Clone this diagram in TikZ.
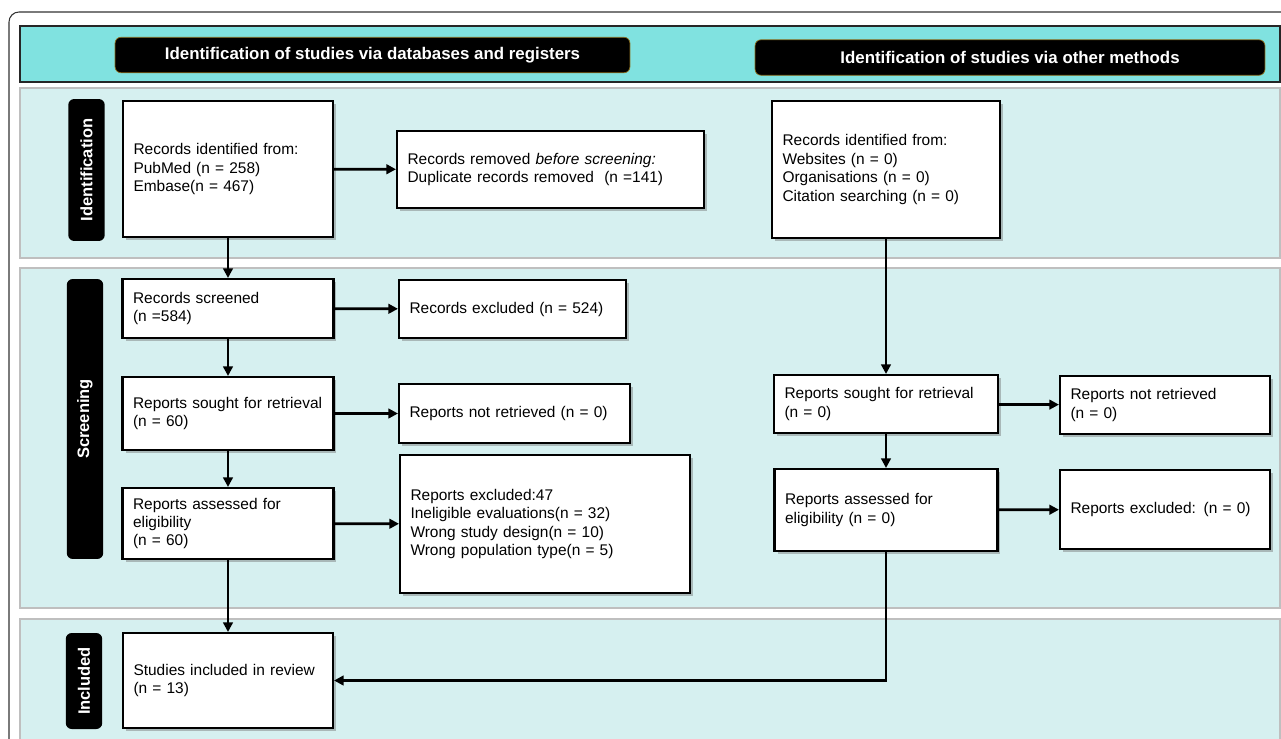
\documentclass[tikz,border=0pt]{standalone}
\usepackage{fontspec}
\setmainfont{Liberation Sans}
\usetikzlibrary{positioning, arrows.meta, shadows, calc}

\definecolor{bandcyan}{RGB}{128,226,224}
\definecolor{panelcyan}{RGB}{214,240,240}
\definecolor{pillgold}{RGB}{140,110,30}

\tikzset{
	box/.style={rectangle, draw, fill=white, line width=1.2pt, align=left, inner xsep=0.21cm, 
	font=\fontsize{8.8}{10.5}\selectfont, drop shadow={shadow xshift=0.06cm, shadow yshift=-0.06cm, 
	fill=black!60, opacity=0.4}},
	pill/.style={rectangle, draw=pillgold, fill=black, rounded corners=0.12cm, text=white, 
	font=\fontsize{9.6}{11}\selectfont\bfseries, minimum height=0.71cm},
	stage/.style={rectangle, fill=black, rounded corners=0.12cm, text=white, rotate=90, 
	font=\fontsize{9.4}{11}\selectfont\bfseries, minimum height=0.73cm},
	panel/.style={draw=black!25, fill=panelcyan, line width=0.8pt},
	link/.style={draw, line width=1.6pt, -{Triangle[length=1.9mm, width=1.9mm]}}
}

\begin{document}
\begin{tikzpicture}[x=0.02cm, y=-0.02cm]
		
		\useasboundingbox (0,0) rectangle (1281,738);
		\clip (0,0) rectangle (1281,738);
		
		%Frame and panels
		\draw [black!80, line width=0.6pt, rounded corners=0.2cm] (9,12) rectangle (1300,760);
		\draw [fill=bandcyan, draw=black!85, line width=0.8pt] (20,26) rectangle (1280,82);
		\path [panel] (20,88) rectangle (1280,258);
		\path [panel] (20,268) rectangle (1280,608);
		\path [panel] (20,619) rectangle (1280,760);
		
		%Headers
		\node [pill, minimum width=10.3cm] (headDb) at (372.5,55) 
		{Identification of studies via databases and registers};
		\node [pill, minimum width=10.2cm] (headOther) at (1010,57.5) 
		{Identification of studies via other methods};
		
		%Stage labels
		\node [stage, minimum width=2.84cm] (stIdent) at (86.5,170) {Identification};
		\node [stage, minimum width=5.6cm] (stScreen) at (85,419) {Screening};
		\node [stage, minimum width=1.92cm] (stIncl) at (84,681) {Included};
		
		%Database nodes
		\node [box, text width=3.78cm, minimum height=2.72cm] (identDb) at (228,169) 
		{Records identified from:\\PubMed (n = 258)\\Embase(n = 467)};
		
		\node [box, text width=5.72cm, minimum height=1.54cm] (removed) at (550.5,169.5) 
		{Records removed \textit{before screening:}\\Duplicate records removed\ \ (n =141)};
		
		\node [box, text width=3.80cm, minimum height=1.18cm] (screened) at (228,308.5) 
		{Records screened\\(n =584)};
		
		\node [box, text width=4.12cm, minimum height=1.16cm] (excluded) at (512.5,309) 
		{Records excluded (n = 524)};
		
		\node [box, text width=3.80cm, minimum height=1.46cm] (sought) at (228,413.5) 
		{Reports sought for retrieval\\(n = 60)};
		
		\node [box, text width=4.20cm, minimum height=1.18cm] (notRetrieved) at (514.5,413.5) 
		{Reports not retrieved (n = 0)};
		
		\node [box, text width=3.80cm, minimum height=1.42cm] (assessed) at (228,523.5) 
		{Reports assessed for\\eligibility\\(n = 60)};
		
		\node [box, text width=5.38cm, minimum height=2.76cm] (reportsExcl) at (545,524) 
		{Reports excluded:47\\Ineligible evaluations(n = 32)\\Wrong study design(n = 10)\\
		Wrong population type(n = 5)};
		
		\node [box, text width=3.78cm, minimum height=1.90cm] (included) at (228,680.5) 
		{Studies included in review\\(n = 13)};
		
		%Other methods nodes
		\node [box, text width=4.14cm, minimum height=2.74cm] (identOther) at (886,169.5) 
		{Records identified from:\\Websites (n = 0)\\Organisations (n = 0)\\Citation searching (n = 0)};
		
		\node [box, text width=4.06cm, minimum height=1.16cm] (soughtOther) at (886,404) 
		{Reports sought for retrieval\\(n = 0)};
		
		\node [box, text width=3.78cm, minimum height=1.16cm] (notRetrievedOther) at (1165,405) 
		{Reports not retrieved\\(n = 0)};
		
		\node [box, text width=4.04cm, minimum height=1.64cm] (assessedOther) at (886,510) 
		{Reports assessed for\\eligibility (n = 0)};
		
		\node [box, text width=3.78cm, minimum height=1.58cm] (reportsExclOther) at (1165,509.5) 
		{Reports excluded: (n = 0)};
		
		%Links
		\path [link] (identDb) -- (removed);
		\path [link] (identDb) -- (screened);
		\path [link] (screened) -- (excluded);
		\path [link] (screened) -- (sought);
		\path [link] (sought) -- (notRetrieved);
		\path [link] (sought) -- (assessed);
		\path [link] (assessed) -- (reportsExcl);
		\path [link] (assessed) -- (included);
		\path [link] (identOther) -- (soughtOther);
		\path [link] (soughtOther) -- (notRetrievedOther);
		\path [link] (soughtOther) -- (assessedOther);
		\path [link] (assessedOther) -- (reportsExclOther);
		\path [link] (assessedOther.south) |- (included.east);
		
\end{tikzpicture}
\end{document}
